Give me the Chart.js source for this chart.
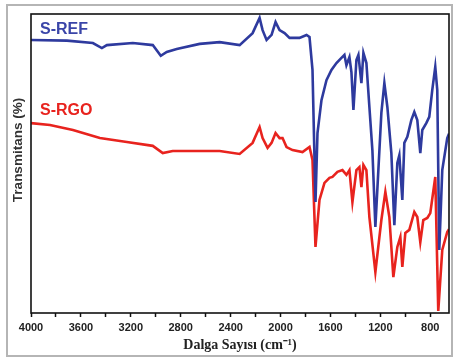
<!DOCTYPE html>
<html>
<head>
<meta charset="utf-8">
<script src="https://cdn.jsdelivr.net/npm/chart.js@4"></script>
<style>
  html, body { margin: 0; padding: 0; background: #ffffff; }
  #wrap { width: 453px; height: 358px; }
</style>
</head>
<body>
<div id="wrap"><canvas id="ftirChart" width="453" height="358"></canvas></div>
<script>
/* FTIR spectra - S-REF / S-RGO */

const xTicks = [4000, 3800, 3600, 3400, 3200, 3000, 2800, 2600, 2400, 2200, 2000, 1800, 1600, 1400, 1200, 1000, 800];

const refWavenumbers = [4000, 3712, 3504, 3432, 3392, 3184, 3024, 2960, 2912, 2832, 2648, 2488, 2328, 2224, 2168, 2144, 2112, 2072, 2040, 2008, 1968, 1928, 1848, 1792, 1768, 1744, 1720, 1704, 1672, 1632, 1592, 1552, 1512, 1488, 1472, 1448, 1432, 1416, 1392, 1376, 1352, 1336, 1312, 1288, 1264, 1240, 1192, 1168, 1144, 1112, 1088, 1064, 1048, 1024, 1008, 984, 952, 928, 904, 880, 864, 832, 808, 784, 760, 744, 728, 704, 664, 650];
const refValues = [91.3, 91.1, 90.3, 88.6, 89.6, 90.3, 89.6, 86.0, 87.3, 88.3, 90.0, 90.6, 89.6, 93.6, 98.7, 94.6, 91.3, 93.0, 97.3, 94.6, 93.6, 92.0, 92.0, 93.0, 92.3, 81.3, 37.1, 60.2, 71.2, 77.9, 81.3, 83.6, 85.3, 86.3, 82.9, 85.6, 80.6, 67.9, 84.6, 86.3, 76.9, 87.0, 83.6, 68.9, 54.5, 28.8, 66.9, 76.9, 68.9, 53.5, 29.4, 50.2, 52.8, 37.8, 56.9, 58.9, 64.5, 67.2, 64.5, 53.5, 61.2, 63.5, 65.6, 74.6, 82.3, 74.6, 21.1, 47.8, 58.5, 60.0];

const rgoWavenumbers = [4000, 3848, 3664, 3448, 3232, 3024, 2944, 2864, 2648, 2488, 2328, 2224, 2168, 2144, 2104, 2072, 2040, 2008, 1984, 1952, 1904, 1824, 1768, 1744, 1720, 1688, 1648, 1608, 1584, 1544, 1504, 1472, 1448, 1424, 1392, 1368, 1352, 1336, 1312, 1288, 1240, 1192, 1160, 1128, 1096, 1064, 1040, 1024, 1000, 968, 928, 904, 880, 856, 824, 800, 760, 736, 704, 664, 650];
const rgoValues = [63.5, 62.9, 61.2, 58.5, 57.2, 55.9, 53.5, 54.2, 54.2, 54.2, 53.2, 56.9, 62.2, 58.5, 55.2, 56.9, 60.2, 58.5, 58.5, 55.5, 54.5, 53.8, 55.5, 51.2, 22.1, 37.8, 43.5, 45.2, 45.5, 47.2, 47.8, 46.2, 47.8, 37.1, 47.8, 48.8, 42.1, 49.5, 47.8, 32.1, 13.7, 31.1, 40.5, 32.1, 12.0, 22.1, 25.4, 15.4, 26.8, 27.8, 33.8, 32.1, 23.7, 31.1, 31.8, 33.4, 45.5, 0.7, 21.1, 27.1, 28.0];

const seriesNames = ["S-REF", "S-RGO"];
const seriesColors = ["#2e3a9e", "#e8231e"];
const yTitle = "Transmitans (%)";

const toPoints = (xs, ys) => xs.map((x, i) => ({ x: x, y: ys[i] }));

Chart.defaults.font.family = "Liberation Sans";

/* frame, y title, series labels */
const framePlugin = {
    id: "frame",
    afterDraw(chart) {
        const { ctx, chartArea: a } = chart;
        ctx.save();
        ctx.strokeStyle = "#b5b5b5";
        ctx.lineWidth = 2;
        ctx.strokeRect(7, 5, 445, 351);
        ctx.strokeStyle = "#111111";
        ctx.lineWidth = 1.6;
        ctx.strokeRect(a.left, a.top, a.right - a.left, a.bottom - a.top);

        ctx.font = "bold 16px 'Liberation Sans'";
        ctx.textBaseline = "middle";
        ctx.fillStyle = "#3a45a8";
        ctx.fillText(seriesNames[0], 40, 30);
        ctx.fillStyle = seriesColors[1];
        ctx.fillText(seriesNames[1], 40, 111);

        ctx.translate(18, 150);
        ctx.rotate(-Math.PI / 2);
        ctx.textAlign = "center";
        ctx.font = "bold 13.5px 'Liberation Sans'";
        ctx.fillStyle = "#333333";
        ctx.fillText(yTitle, 0, 0);
        ctx.restore();
    }
};

new Chart(document.getElementById("ftirChart"), {
    type: "line",
    data: {
        datasets: [
            {
                label: seriesNames[0],
                data: toPoints(refWavenumbers, refValues),
                borderColor: seriesColors[0],
                borderWidth: 2.6,
                pointRadius: 0,
                tension: 0
            },
            {
                label: seriesNames[1],
                data: toPoints(rgoWavenumbers, rgoValues),
                borderColor: seriesColors[1],
                borderWidth: 2.6,
                pointRadius: 0,
                tension: 0
            }
        ]
    },
    options: {
        responsive: false,
        animation: false,
        layout: { padding: { top: 14, right: 4, left: 0, bottom: 0 } },
        plugins: { legend: { display: false }, tooltip: { enabled: false } },
        scales: {
            x: {
                type: "linear",
                reverse: true,
                min: 650,
                max: 4000,
                afterBuildTicks: s => { s.ticks = xTicks.map(v => ({ value: v })); },
                afterFit: s => { s.height = 45; },
                border: { display: false },
                grid: { drawOnChartArea: false, color: "#111111", tickLength: 4, tickWidth: 1.5 },
                ticks: {
                    autoSkip: false,
                    maxRotation: 0,
                    padding: 4,
                    color: "#222222",
                    font: { family: "Liberation Sans", size: 11, weight: "bold" },
                    callback: v => (v % 400 === 0 ? String(v) : "")
                },
                title: {
                    display: true,
                    text: "Dalga Sayısı (cm⁻¹)",
                    color: "#222222",
                    font: { family: "Liberation Serif", size: 14, weight: "bold" },
                    padding: { top: 0, bottom: 4 }
                }
            },
            y: {
                min: 0,
                max: 100,
                afterFit: s => { s.width = 31; },
                border: { display: false },
                grid: { display: false },
                ticks: { display: false }
            }
        }
    },
    plugins: [framePlugin]
});
</script>
</body>
</html>
